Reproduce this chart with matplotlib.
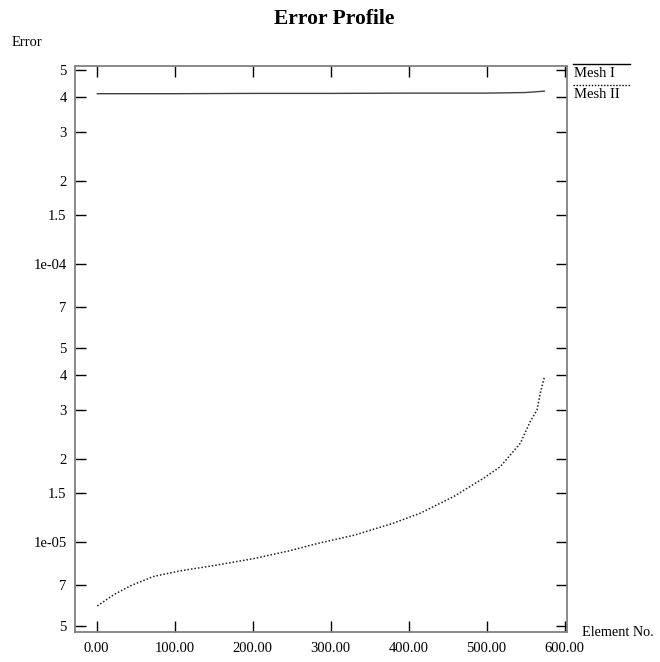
import matplotlib
matplotlib.use("Agg")
import matplotlib.pyplot as plt
from matplotlib.lines import Line2D
import numpy as np

plt.rcParams['font.family'] = ['Liberation Serif', 'DejaVu Serif']

# ---- data ----
mesh1_x = [0, 100, 200, 300, 400, 500, 550, 575]
mesh1_y = [4.11e-4, 4.11e-4, 4.12e-4, 4.12e-4, 4.13e-4, 4.13e-4, 4.15e-4, 4.2e-4]

mesh2_x = [0.8, 21.3, 42.7, 72.6, 106.9, 149.6, 201, 248, 284.4, 330, 380,
           414.8, 457.6, 496.1, 517.5, 543.2, 556, 564.6, 568.9, 574]
mesh2_y = [5.90e-6, 6.46e-6, 6.96e-6, 7.53e-6, 7.89e-6, 8.24e-6, 8.73e-6,
           9.33e-6, 9.92e-6, 1.06e-5, 1.17e-5,
           1.272e-5, 1.459e-5, 1.70e-5, 1.87e-5, 2.27e-5, 2.72e-5, 2.99e-5,
           3.44e-5, 3.92e-5]

series_labels = ["Mesh I", "Mesh II"]
x_ticks = [0, 100, 200, 300, 400, 500, 600]
x_ticklabels = ["0.00", "100.00", "200.00", "300.00", "400.00", "500.00", "600.00"]
y_ticks = [5e-6, 7e-6, 1e-5, 1.5e-5, 2e-5, 3e-5, 4e-5, 5e-5, 7e-5,
           1e-4, 1.5e-4, 2e-4, 3e-4, 4e-4, 5e-4]
y_ticklabels = ["5", "7", "1e-05", "1.5", "2", "3", "4", "5", "7",
                "1e-04", "1.5", "2", "3", "4", "5"]

W, H = 660, 662
fig = plt.figure(figsize=(W / 100, H / 100), dpi=100)
ax = fig.add_axes([75 / W, 1 - 632 / H, (567 - 75) / W, (632 - 66) / H])

ax.plot(mesh1_x, mesh1_y, color='#404040', lw=1.0, solid_capstyle='butt')
ax.plot(mesh2_x, mesh2_y, color='#202020', lw=1.1, linestyle=(0, (1, 1.3)))

ax.set_yscale('log')
ax.set_xlim(-27.8, 603.1)
ax.set_ylim(4.755e-6, 5.17e-4)

ax.set_xticks(x_ticks)
ax.set_xticklabels(x_ticklabels)
ax.set_yticks(y_ticks)
ax.set_yticklabels(y_ticklabels)
ax.minorticks_off()
ax.tick_params(axis='both', which='both', direction='in', length=8, width=1,
               color='black', labelsize=10.5, top=True, right=True)
ax.tick_params(axis='x', pad=7)
ax.tick_params(axis='y', pad=6)

for s in ax.spines.values():
    s.set_color('#808080')
    s.set_linewidth(1.3)

fig.text(334 / W, 1 - 19 / H, "Error Profile", ha='center', va='center',
         fontsize=15.5, fontweight='bold')
fig.text(12 / W, 1 - 43 / H, "Error", ha='left', va='center', fontsize=10.5)
fig.text(582 / W, 1 - 636 / H, "Element No.", ha='left', va='baseline', fontsize=10.3)

# legend (lines drawn above the labels, as in the reference)
fig.add_artist(Line2D([573 / W, 630 / W], [1 - 64 / H, 1 - 64 / H],
                      transform=fig.transFigure, color='black', lw=1.0))
fig.add_artist(Line2D([573 / W, 630 / W], [1 - 85 / H, 1 - 85 / H],
                      transform=fig.transFigure, color='black', lw=1.0,
                      linestyle=(0, (1, 1.2))))
fig.text(574 / W, 1 - 77 / H, series_labels[0], ha='left', va='baseline', fontsize=10.5)
fig.text(574 / W, 1 - 98 / H, series_labels[1], ha='left', va='baseline', fontsize=10.5)

fig.savefig("out.png", dpi=100)
